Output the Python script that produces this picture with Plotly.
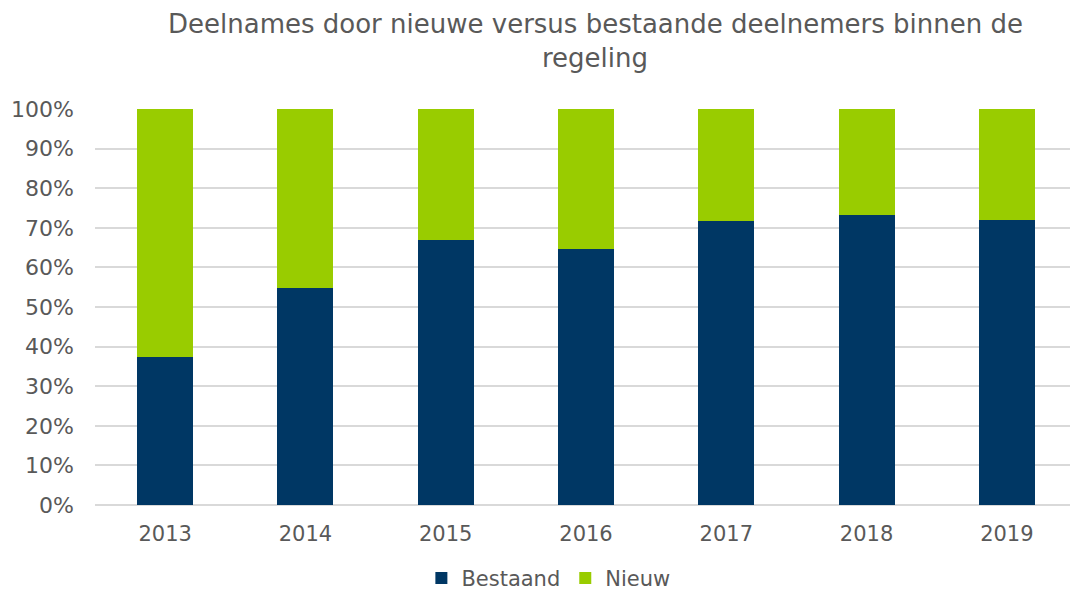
import plotly.graph_objects as go

years = ["2013", "2014", "2015", "2016", "2017", "2018", "2019"]
bestaand = [37.3, 54.9, 66.8, 64.7, 71.8, 73.2, 71.9]
nieuw = [100 - v for v in bestaand]
tick_vals = [0, 10, 20, 30, 40, 50, 60, 70, 80, 90, 100]
tick_text = [f"{v}%" for v in tick_vals]
title_lines = ["Deelnames door nieuwe versus bestaande deelnemers binnen de", "regeling"]

FONT = "Verdana, DejaVu Sans, sans-serif"
GREY = "#595959"

fig = go.Figure()
fig.add_trace(go.Bar(x=years, y=bestaand, name="Bestaand",
                     marker=dict(color="#003764", line=dict(width=0))))
fig.add_trace(go.Bar(x=years, y=nieuw, name="Nieuw",
                     marker=dict(color="#99CC00", line=dict(width=0))))

H, T, B = 594, 108.5, 89
plot_h = H - T - B

def py(pix):
    return (H - B - pix) / plot_h

for line, ypix in zip(title_lines, [23, 57]):
    fig.add_annotation(text=line, xref="paper", yref="paper", x=0.513, y=py(ypix),
                       xanchor="center", yanchor="middle", showarrow=False,
                       font=dict(family=FONT, size=26, color=GREY))

fig.update_layout(
    barmode="stack",
    bargap=0.6,
    width=1070, height=594,
    margin=dict(l=95, r=0, t=T, b=B, autoexpand=False),
    paper_bgcolor="white", plot_bgcolor="white",
    font=dict(family=FONT, color=GREY, size=21),
    legend=dict(orientation="h", x=0.465, xanchor="center", y=py(599), yanchor="bottom",
                font=dict(family=FONT, size=21, color=GREY), traceorder="normal",
                itemwidth=30, borderwidth=0),
    showlegend=True,
)
fig.update_xaxes(range=[-0.5, 6.45], showgrid=False, ticks="", showline=False,
                 ticklabelstandoff=14,
                 tickfont=dict(family=FONT, size=21, color=GREY))
fig.update_yaxes(range=[0, 100], tickvals=tick_vals, ticktext=tick_text,
                 showgrid=True, gridcolor="#D9D9D9", gridwidth=1.5,
                 zeroline=True, zerolinecolor="#D9D9D9", zerolinewidth=1.5,
                 ticks="", ticklabelstandoff=20,
                 tickfont=dict(family=FONT, size=22, color=GREY))

fig.write_html("out.html", config={"displayModeBar": False},
               post_script="document.body.style.margin='0';document.body.style.overflow='hidden';")
